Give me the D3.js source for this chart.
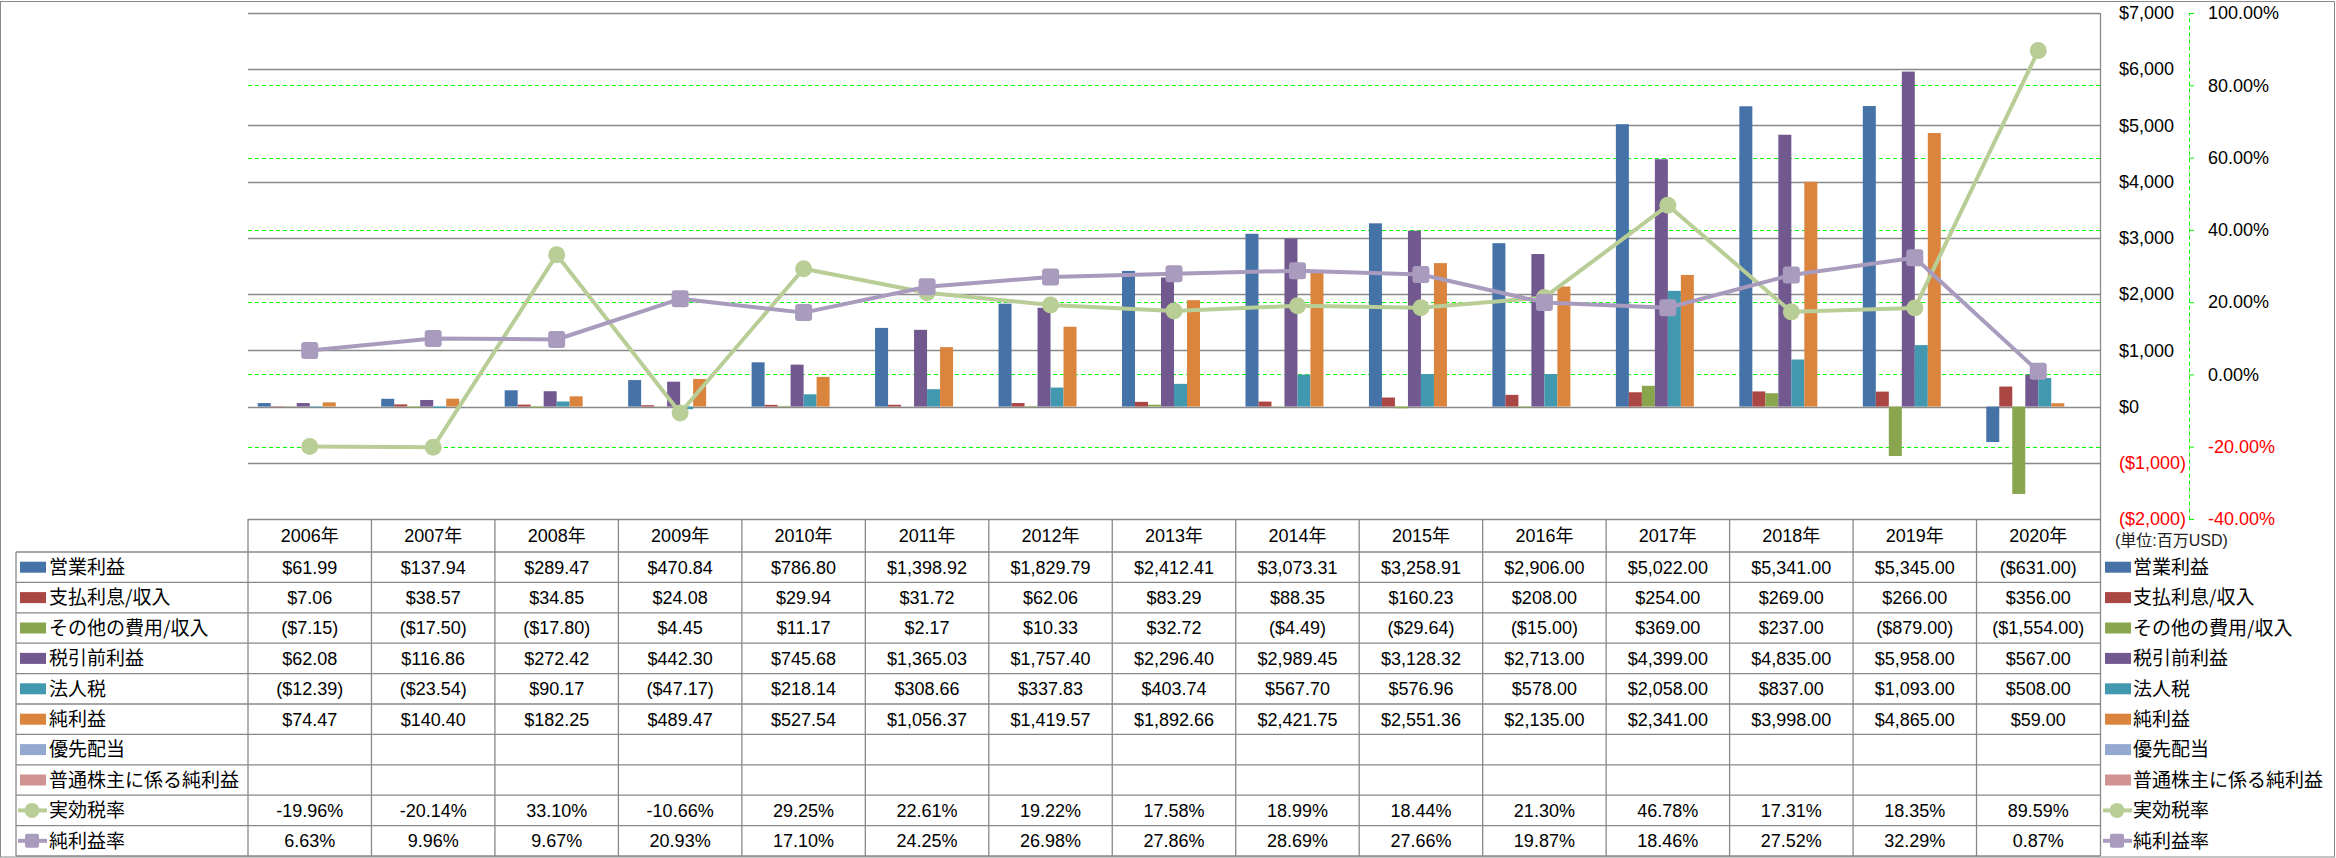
<!DOCTYPE html>
<html>
<head>
<meta charset="utf-8">
<script src="https://cdn.jsdelivr.net/npm/d3@7"></script>
<style>
  body { margin: 0; background: #fff; }
  svg text { font-family: "Liberation Sans", "Noto Sans CJK JP", sans-serif; fill: #000; }
  .jp { font-family: "Noto Sans CJK JP", sans-serif; }
</style>
</head>
<body>
<div id="chart"></div>
<script>
// chart values (millions USD / percent)
var years = ["2006年", "2007年", "2008年", "2009年", "2010年", "2011年", "2012年", "2013年",
  "2014年", "2015年", "2016年", "2017年", "2018年", "2019年", "2020年"];

var opIncome = [61.99, 137.94, 289.47, 470.84, 786.80, 1398.92, 1829.79, 2412.41, 3073.31, 3258.91, 2906.00, 5022.00, 5341.00, 5345.00, -631.00];
var interest = [7.06, 38.57, 34.85, 24.08, 29.94, 31.72, 62.06, 83.29, 88.35, 160.23, 208.00, 254.00, 269.00, 266.00, 356.00];
var otherIncome = [-7.15, -17.50, -17.80, 4.45, 11.17, 2.17, 10.33, 32.72, -4.49, -29.64, -15.00, 369.00, 237.00, -879.00, -1554.00];
var pretax = [62.08, 116.86, 272.42, 442.30, 745.68, 1365.03, 1757.40, 2296.40, 2989.45, 3128.32, 2713.00, 4399.00, 4835.00, 5958.00, 567.00];
var incomeTax = [-12.39, -23.54, 90.17, -47.17, 218.14, 308.66, 337.83, 403.74, 567.70, 576.96, 578.00, 2058.00, 837.00, 1093.00, 508.00];
var netIncome = [74.47, 140.40, 182.25, 489.47, 527.54, 1056.37, 1419.57, 1892.66, 2421.75, 2551.36, 2135.00, 2341.00, 3998.00, 4865.00, 59.00];
var preferredDiv = [null, null, null, null, null, null, null, null, null, null, null, null, null, null, null];
var commonNet = [null, null, null, null, null, null, null, null, null, null, null, null, null, null, null];
var effTaxRate = [-19.96, -20.14, 33.10, -10.66, 29.25, 22.61, 19.22, 17.58, 18.99, 18.44, 21.30, 46.78, 17.31, 18.35, 89.59];
var netMargin = [6.63, 9.96, 9.67, 20.93, 17.10, 24.25, 26.98, 27.86, 28.69, 27.66, 19.87, 18.46, 27.52, 32.29, 0.87];

var leftTicks = [-2000, -1000, 0, 1000, 2000, 3000, 4000, 5000, 6000, 7000];
var rightTicks = [-40, -20, 0, 20, 40, 60, 80, 100];

var barSeries = [
  {name: "営業利益", values: opIncome, color: "#4572A7"},
  {name: "支払利息/収入", values: interest, color: "#AA4643"},
  {name: "その他の費用/収入", values: otherIncome, color: "#89A54E"},
  {name: "税引前利益", values: pretax, color: "#71588F"},
  {name: "法人税", values: incomeTax, color: "#4198AF"},
  {name: "純利益", values: netIncome, color: "#DB843D"},
  {name: "優先配当", values: preferredDiv, color: "#93A9CF"},
  {name: "普通株主に係る純利益", values: commonNet, color: "#D19392"}
];
var lineSeries = [
  {name: "実効税率", values: effTaxRate, color: "#B9CD96", marker: "circle"},
  {name: "純利益率", values: netMargin, color: "#A99BBD", marker: "square"}
];

var W = 2336, H = 858;
var plotLeft = 248, plotRight = 2100, plotTop = 13, plotBottom = 519;
var tableLeft = 16;
var headerBottom = 552, rowH = 30.4;
var gridColor = "#898989";

var svg = d3.select("#chart").append("svg")
  .attr("width", W)
  .attr("height", H);

svg.append("rect")
  .attr("x", 0.5).attr("y", 1.5)
  .attr("width", W - 2).attr("height", H - 2.5)
  .attr("fill", "#fff")
  .attr("stroke", gridColor);

var x = d3.scaleBand().domain(years).range([plotLeft, plotRight]);
var xSub = d3.scaleBand().domain(d3.range(barSeries.length))
  .range([0, x.bandwidth()]).paddingOuter(0.75);
var y = d3.scaleLinear().domain([-2000, 7000]).range([plotBottom, plotTop]);
var y2 = d3.scaleLinear().domain([-40, 100]).range([plotBottom, plotTop]);

// gridlines
svg.append("g").selectAll("line")
  .data(rightTicks.slice(1, -1))
  .join("line")
  .attr("x1", plotLeft).attr("x2", plotRight)
  .attr("y1", d => Math.round(y2(d)) + 0.5).attr("y2", d => Math.round(y2(d)) + 0.5)
  .attr("stroke", "#00ff00").attr("stroke-dasharray", "4,3");

svg.append("g").selectAll("line")
  .data(leftTicks)
  .join("line")
  .attr("x1", plotLeft).attr("x2", plotRight)
  .attr("y1", d => Math.round(y(d)) + 0.5).attr("y2", d => Math.round(y(d)) + 0.5)
  .attr("stroke", gridColor).attr("stroke-width", 1.3);

// bars
barSeries.forEach(function(s, i) {
  svg.append("g").selectAll("rect")
    .data(s.values.map((v, j) => ({year: years[j], v: v})).filter(d => d.v !== null))
    .join("rect")
    .attr("x", d => x(d.year) + xSub(i))
    .attr("width", xSub.bandwidth())
    .attr("y", d => Math.min(y(d.v), y(0)))
    .attr("height", d => Math.abs(y(d.v) - y(0)))
    .attr("fill", s.color);
});

// lines + markers
var line = d3.line()
  .x(d => x(d.year) + x.bandwidth() / 2)
  .y(d => y2(d.v));

lineSeries.forEach(function(s) {
  var pts = s.values.map((v, j) => ({year: years[j], v: v}));
  svg.append("path")
    .datum(pts)
    .attr("d", line)
    .attr("fill", "none")
    .attr("stroke", s.color)
    .attr("stroke-width", 4)
    .attr("stroke-linejoin", "round");
  var g = svg.append("g");
  if (s.marker == "circle") {
    g.selectAll("circle").data(pts).join("circle")
      .attr("cx", d => x(d.year) + x.bandwidth() / 2)
      .attr("cy", d => y2(d.v))
      .attr("r", 8.5)
      .attr("fill", s.color);
  } else {
    g.selectAll("rect").data(pts).join("rect")
      .attr("x", d => x(d.year) + x.bandwidth() / 2 - 8.5)
      .attr("y", d => y2(d.v) - 8.5)
      .attr("width", 17).attr("height", 17)
      .attr("rx", 3)
      .attr("fill", s.color);
  }
});

// right side axes
var moneyFmt = d3.format("$,.0f");
var leftAxis = svg.append("g")
  .attr("transform", "translate(2119,0)")
  .call(d3.axisRight(y).tickValues(leftTicks).tickSize(0).tickPadding(0)
    .tickFormat(d => d < 0 ? "(" + moneyFmt(-d) + ")" : moneyFmt(d)));
leftAxis.select(".domain").remove();
leftAxis.selectAll("text")
  .style("font-size", "18px")
  .style("fill", d => d < 0 ? "#ff0000" : "#000");

var pctAxis = svg.append("g")
  .attr("transform", "translate(2189,0)")
  .call(d3.axisRight(y2).tickValues(rightTicks).tickSize(5).tickSizeOuter(0).tickPadding(14)
    .tickFormat(d => d.toFixed(2) + "%"));
pctAxis.select(".domain").attr("stroke", "#00ff00").attr("stroke-dasharray", "4,3");
pctAxis.selectAll(".tick line").attr("stroke", "#00ff00");
pctAxis.selectAll("text")
  .style("font-size", "18px")
  .style("fill", d => d < 0 ? "#ff0000" : "#000");

svg.append("line")
  .attr("x1", plotRight + 0.5).attr("x2", plotRight + 0.5)
  .attr("y1", plotTop).attr("y2", 856)
  .attr("stroke", gridColor).attr("stroke-width", 1.3);

// data table
var rows = barSeries.concat(lineSeries);
var tableBottom = headerBottom + rowH * rows.length;
var table = svg.append("g");

table.selectAll("line.h")
  .data(d3.range(rows.length + 1))
  .join("line")
  .attr("x1", tableLeft).attr("x2", plotRight)
  .attr("y1", i => headerBottom + i * rowH).attr("y2", i => headerBottom + i * rowH)
  .attr("stroke", gridColor).attr("stroke-width", 1.3);

table.selectAll("line.v")
  .data(years)
  .join("line")
  .attr("x1", d => x(d)).attr("x2", d => x(d))
  .attr("y1", plotBottom).attr("y2", tableBottom)
  .attr("stroke", gridColor).attr("stroke-width", 1.3);

table.append("line")
  .attr("x1", tableLeft).attr("x2", tableLeft)
  .attr("y1", headerBottom).attr("y2", tableBottom)
  .attr("stroke", gridColor).attr("stroke-width", 1.3);

table.selectAll("text.year")
  .data(years)
  .join("text")
  .attr("x", d => x(d) + x.bandwidth() / 2)
  .attr("y", (plotBottom + headerBottom) / 2)
  .attr("dy", "0.36em")
  .attr("text-anchor", "middle")
  .style("font-size", "18px")
  .text(d => d);

function fmtValue(v, isPct) {
  if (v === null) return "";
  if (isPct) return v.toFixed(2) + "%";
  var s = d3.format("$,.2f")(Math.abs(v));
  return v < 0 ? "(" + s + ")" : s;
}

// legend key used in the table and in the right legend
function drawKey(g, s, kx, cy) {
  if (s.marker) {
    g.append("line")
      .attr("x1", kx - 2).attr("x2", kx + 27)
      .attr("y1", cy).attr("y2", cy)
      .attr("stroke", s.color).attr("stroke-width", 4);
    if (s.marker == "circle") {
      g.append("circle").attr("cx", kx + 12).attr("cy", cy).attr("r", 7.5).attr("fill", s.color);
    } else {
      g.append("rect").attr("x", kx + 5).attr("y", cy - 7).attr("width", 14).attr("height", 14)
        .attr("rx", 2).attr("fill", s.color);
    }
  } else {
    g.append("rect")
      .attr("x", kx).attr("y", cy - 5.5)
      .attr("width", 26).attr("height", 11)
      .attr("fill", s.color);
  }
}

rows.forEach(function(s, r) {
  var cy = headerBottom + r * rowH + rowH / 2;
  var isPct = !!s.marker;
  drawKey(table, s, 20, cy);
  table.append("text")
    .attr("class", "jp")
    .attr("x", 49).attr("y", cy).attr("dy", "0.36em")
    .style("font-size", "19px")
    .text(s.name);
  drawKey(table, s, 2105, cy);
  table.append("text")
    .attr("class", "jp")
    .attr("x", 2133).attr("y", cy).attr("dy", "0.36em")
    .style("font-size", "19px")
    .text(s.name);
  table.selectAll(null)
    .data(s.values.map((v, j) => ({year: years[j], v: v})))
    .join("text")
    .attr("x", d => x(d.year) + x.bandwidth() / 2)
    .attr("y", cy).attr("dy", "0.36em")
    .attr("text-anchor", "middle")
    .style("font-size", "18px")
    .text(d => fmtValue(d.v, isPct));
});

svg.append("text")
  .attr("x", 2115).attr("y", 540).attr("dy", "0.36em")
  .style("font-size", "16px")
  .style("fill", "#222")
  .text("(単位:百万USD)");
</script>
</body>
</html>
